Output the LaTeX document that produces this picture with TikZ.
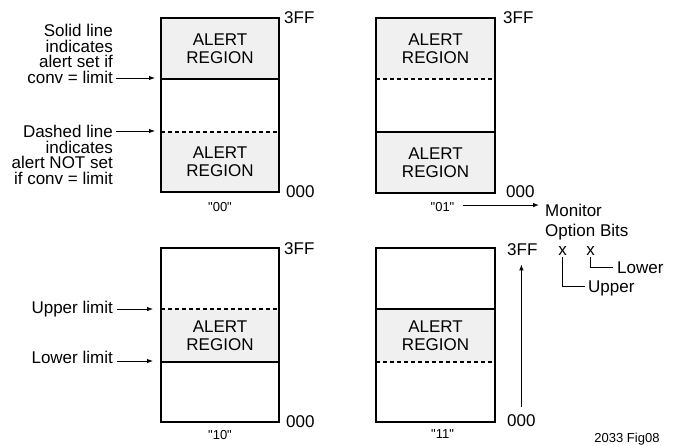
\documentclass[tikz,border=0pt]{standalone}
\usepackage{fontspec}
\setmainfont{Liberation Sans}[Ligatures=TeXOff]
\usetikzlibrary{arrows.meta,calc}

\definecolor{alertgray}{gray}{.94}

\begin{document}
\begin{tikzpicture}[x=1pt,y=-1pt,
  frame/.style={line width=1.2pt},
  limit/.style={line width=1.1pt},
  dashlimit/.style={line width=1.1pt, dash pattern=on 4pt off 3pt},
  txt/.style={inner sep=0pt, font=\fontsize{17}{15.5}\selectfont},
  region/.style={txt, align=center, font=\fontsize{17}{18}\selectfont},
  tag/.style={inner sep=0pt, font=\fontsize{13}{14}\selectfont},
  ptr/.style={line width=.9pt, -{Latex[length=6pt,width=4.5pt]}},
  bracket/.style={line width=.9pt}
]
\useasboundingbox (0,0) rectangle (676,445);

% box "00"
\fill [alertgray] (161,18) rectangle (279,79);
\fill [alertgray] (161,132) rectangle (279,192);
\draw [limit] (161,79) coordinate (s00) -- (279,79);
\draw [dashlimit] (161,132) coordinate (d00) -- (279,132);
\draw [frame] (161,18) rectangle (279,192);
\node [region] (r00a) at (220,48.5) {ALERT\\REGION};
\node [region] (r00b) at (220,162) {ALERT\\REGION};
\node [txt, anchor=base west] (top00) at (284,23) {3FF};
\node [txt, anchor=base west] (bot00) at (286,197) {000};
\node [tag, anchor=base] (c00) at (220,211) {"00"};

% box "01"
\fill [alertgray] (376,18) rectangle (495,79);
\fill [alertgray] (376,132) rectangle (495,193);
\draw [dashlimit] (376,79) -- (495,79);
\draw [limit] (376,132) -- (495,132);
\draw [frame] (376,18) rectangle (495,193);
\node [region] (r01a) at (435.5,48.5) {ALERT\\REGION};
\node [region] (r01b) at (435.5,162.5) {ALERT\\REGION};
\node [txt, anchor=base west] (top01) at (503,23) {3FF};
\node [txt, anchor=base west] (bot01) at (506,197) {000};
\node [tag, anchor=base] (c01) at (442.5,211) {"01"};

% box "10"
\fill [alertgray] (161,309) rectangle (279,362);
\draw [dashlimit] (161,309) coordinate (u10) -- (279,309);
\draw [limit] (161,362) coordinate (l10) -- (279,362);
\draw [frame] (161,248) rectangle (279,422);
\node [region] (r10) at (220,335.5) {ALERT\\REGION};
\node [txt, anchor=base west] (top10) at (284,254) {3FF};
\node [txt, anchor=base west] (bot10) at (286,427) {000};
\node [tag, anchor=base] (c10) at (220,439) {"10"};

% box "11"
\fill [alertgray] (376,309) rectangle (495,362);
\draw [limit] (376,309) -- (495,309);
\draw [dashlimit] (376,362) -- (495,362);
\draw [frame] (376,248) rectangle (495,422);
\node [region] (r11) at (435.5,335.5) {ALERT\\REGION};
\node [txt, anchor=base west] (top11) at (507,255) {3FF};
\node [txt, anchor=base west] (bot11) at (507,426) {000};
\node [tag, anchor=base] (c11) at (442.5,438) {"11"};

% notes on the left
\node [txt, align=right, anchor=east] (solid) at (113,54)
  {Solid line\\indicates\\alert set if\\conv = limit};
\node [txt, align=right, anchor=east] (dash) at (113,155)
  {Dashed line\\indicates\\alert NOT set\\if conv = limit};
\node [txt, anchor=base east] (upper) at (113,313) {Upper limit};
\node [txt, anchor=base east] (lower) at (113,363) {Lower limit};

\draw [ptr] ($(solid.east |- s00)+(3,-1)$) -- ($(s00)+(-6,-1)$);
\draw [ptr] ($(dash.east |- d00)+(3,-1)$) -- ($(d00)+(-6,-1)$);
\draw [ptr] ($(upper.east |- u10)+(4,0)$) -- ($(u10)+(-8,0)$);
\draw [ptr] ($(lower.east |- l10)+(4,-1)$) -- ($(l10)+(-8,-1)$);

% option bits
\node [txt, align=left, anchor=north west, font=\fontsize{17}{20}\selectfont]
  (mon) at (545,203.5) {Monitor\\Option Bits};
\draw [ptr] ($(c01.east)+(8,-1.5)$) -- ($(c01.east -| mon.west)+(-6,-1.5)$);

\node [txt, anchor=base] (xup) at (562.5,255) {x};
\node [txt, anchor=base] (xlo) at (590.5,255) {x};
\node [txt, anchor=base west, text depth=0pt] (lo) at (617,273) {Lower};
\node [txt, anchor=base west, text depth=0pt] (up) at (588,292) {Upper};
\draw [bracket] ($(xlo.south)+(0,2)$) |- ($(lo.west)+(-4,0)$);
\draw [bracket] ($(xup.south)+(0,2)$) |- ($(up.west)+(-3,0)$);

\draw [ptr] ($(bot11.north)+(0,-7)$) -- ($(bot11.north |- top11.south)+(0,9)$);

\node [tag, anchor=base] (fig) at (627,442) {2033 Fig08};
\end{tikzpicture}
\end{document}
